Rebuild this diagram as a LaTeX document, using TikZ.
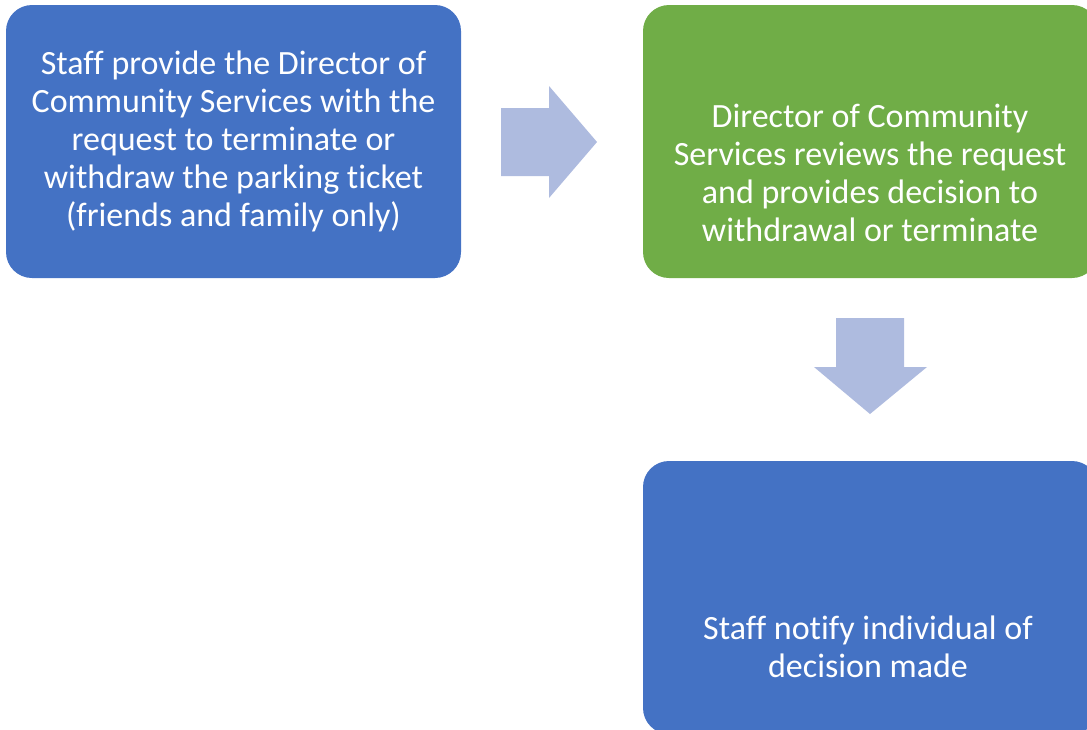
\documentclass[tikz,border=0pt]{standalone}
\usepackage{fontspec}
\setmainfont[Ligatures=NoCommon]{Carlito}
\definecolor{boxblue}{HTML}{4472C4}
\definecolor{boxgreen}{HTML}{70AD47}
\definecolor{arrowfill}{HTML}{AEBBDF}
\begin{document}
\begin{tikzpicture}[x=1pt,y=-1pt,
  stepbox/.style={rounded corners=26pt, inner sep=0pt},
  boxtext/.style={text=white, align=center, inner sep=0pt,
    font=\fontsize{34pt}{38pt}\selectfont},
  blockarrow/.style={fill=arrowfill, draw=none}]
\useasboundingbox (0,0) rectangle (1087,729);
\clip (0,0) rectangle (1087,729);
\fill[boxblue, stepbox] (6,5) rectangle (461,278);
\node[boxtext] (t1) at (233.5,141) {Staff provide the Director of\\Community Services with the\\request to terminate or\\withdraw the parking ticket\\(friends and family only)};
\fill[boxgreen, stepbox] (643,5) rectangle (1098,278);
\node[boxtext] (t2) at (870,173) {Director of Community\\Services reviews the request\\and provides decision to\\withdrawal or terminate};
\fill[boxblue, stepbox] (643,461) rectangle (1098,734);
\node[boxtext] (t3) at (868,647) {Staff notify individual of\\decision made};
\fill[blockarrow] (501,108) -- (549,108) -- (549,86) -- (597,142) -- (549,198) -- (549,176) -- (501,176) -- cycle;
\fill[blockarrow] (836,318) -- (904,318) -- (904,367) -- (927,367) -- (870,414) -- (814,367) -- (836,367) -- cycle;
\end{tikzpicture}
\end{document}
